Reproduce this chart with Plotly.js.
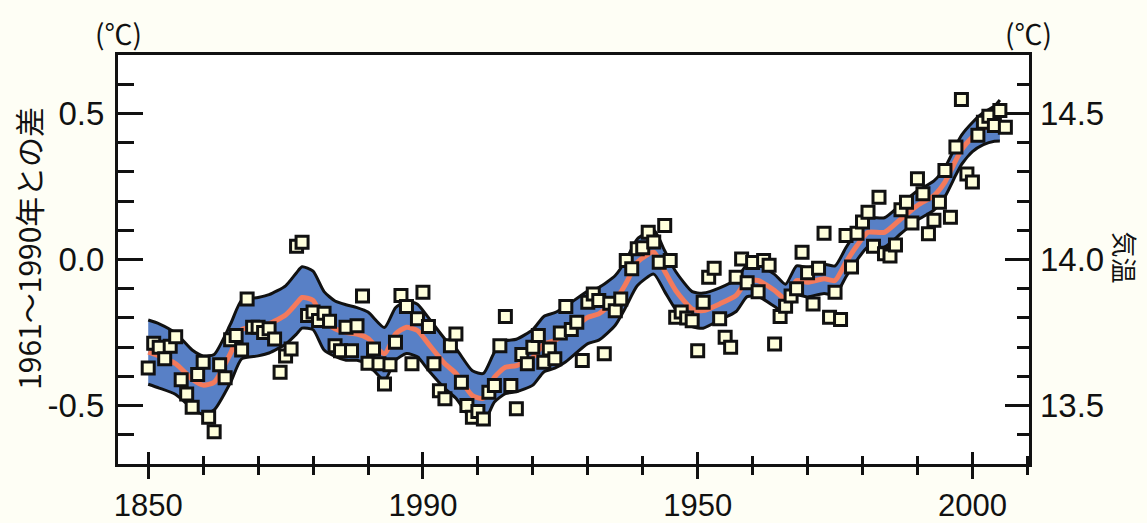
<!DOCTYPE html>
<html>
<head>
<meta charset="utf-8">
<script src="https://cdn.plot.ly/plotly-3.0.1.min.js"></script>
<style>
  html, body { margin: 0; padding: 0; background: #FEFEF5; }
  #chart { width: 1147px; height: 523px; }
</style>
</head>
<body>
<div id="chart"></div>
<script>
// ---- Data ----
// Annual global mean anomaly (°C, vs. 1961-1990)
const years = [];
for (let y = 1850; y <= 2006; y++) years.push(y);
const annualAnomaly = [
  -0.371, -0.287, -0.300, -0.340, -0.297, -0.264, -0.412, -0.460, -0.506, -0.394, // 1850-1859
  -0.352, -0.540, -0.590, -0.360, -0.405, -0.275, -0.260, -0.310, -0.135, -0.232, // 1860-1869
  -0.232, -0.250, -0.237, -0.272, -0.386, -0.330, -0.306,  0.045,  0.059, -0.192, // 1870-1879
  -0.180, -0.209, -0.184, -0.211, -0.295, -0.312, -0.232, -0.312, -0.227, -0.125, // 1880-1889
  -0.355, -0.306, -0.357, -0.426, -0.360, -0.283, -0.123, -0.161, -0.357, -0.203, // 1890-1899
  -0.112, -0.229, -0.357, -0.449, -0.477, -0.295, -0.255, -0.420, -0.500, -0.540, // 1900-1909
  -0.520, -0.546, -0.454, -0.431, -0.295, -0.195, -0.431, -0.511, -0.325, -0.357, // 1910-1919
  -0.300, -0.260, -0.352, -0.306, -0.340, -0.252, -0.161, -0.240, -0.215, -0.346, // 1920-1929
  -0.146, -0.118, -0.140, -0.323, -0.150, -0.175, -0.135, -0.003, -0.032,  0.037, // 1930-1939
   0.040,  0.093,  0.060, -0.009,  0.116, -0.003, -0.198, -0.180, -0.200, -0.210, // 1940-1949
  -0.312, -0.146, -0.061, -0.030, -0.203, -0.266, -0.300, -0.061,  0.002, -0.080, // 1950-1959
  -0.010, -0.110, -0.003, -0.020, -0.289, -0.195, -0.160, -0.125, -0.100,  0.025, // 1960-1969
  -0.045, -0.152, -0.030,  0.090, -0.198, -0.112, -0.205,  0.082, -0.026,  0.090, // 1970-1979
   0.128,  0.162,  0.045,  0.213,  0.020,  0.012,  0.050,  0.170,  0.196,  0.125, // 1980-1989
   0.276,  0.225,  0.088,  0.134,  0.196,  0.305,  0.145,  0.385,  0.548,  0.293, // 1990-1999
   0.265,  0.425,  0.470,  0.490,  0.459,  0.510,  0.453                           // 2000-2006
];

// Smoothed (decadal) curve and half-width of the shaded uncertainty band
const smoothYears = [1850,1852,1855,1858,1860,1862,1865,1867,1870,1872,1875,1877,1878,1880,1882,1884,1886,1888,
  1890,1893,1895,1897,1899,1901,1904,1906,1909,1911,1913,1915,1917,1920,1922,1924,1926,1930,1932,1935,1937,1939,
  1942,1944,1946,1949,1951,1954,1957,1959,1961,1964,1966,1968,1970,1973,1975,1977,1979,1981,1984,1987,1990,1993,
  1995,1997,1998,2000,2002,2004,2005];
const smoothValue = [-0.317,-0.330,-0.357,-0.410,-0.430,-0.420,-0.320,-0.240,-0.230,-0.220,-0.190,-0.150,-0.130,-0.140,-0.210,-0.237,-0.250,-0.255,
  -0.270,-0.323,-0.255,-0.232,-0.243,-0.289,-0.357,-0.390,-0.466,-0.475,-0.403,-0.369,-0.363,-0.335,-0.290,-0.277,-0.255,-0.198,-0.186,-0.140,-0.080,-0.010,
  0.025,-0.040,-0.106,-0.170,-0.175,-0.152,-0.123,-0.072,-0.072,-0.106,-0.135,-0.072,-0.078,-0.066,-0.072,-0.009,0.048,0.093,0.093,0.139,0.185,0.219,
  0.265,0.340,0.375,0.419,0.448,0.465,0.476];
const bandHalfWidth = [0.110,0.110,0.105,0.100,0.100,0.095,0.100,0.100,0.100,0.100,0.100,0.105,0.105,0.100,0.100,0.095,0.095,0.090,
  0.090,0.090,0.090,0.090,0.090,0.090,0.085,0.085,0.085,0.085,0.085,0.090,0.090,0.095,0.095,0.095,0.095,0.090,0.090,0.085,0.080,0.080,
  0.075,0.070,0.065,0.060,0.060,0.055,0.055,0.055,0.055,0.055,0.050,0.050,0.050,0.050,0.050,0.050,0.050,0.050,0.050,0.050,0.050,0.050,
  0.050,0.050,0.050,0.050,0.055,0.060,0.070];

// Axis tick labels (as printed on the original)
const xTickVals = [1850, 1900, 1950, 2000];
const xTickText = ['1850', '1990', '1950', '2000'];
const yTickVals = [-0.5, 0.0, 0.5];
const yTickText = ['-0.5', '0.0', '0.5'];
const y2TickVals = [13.5, 14.0, 14.5];
const y2TickText = ['13.5', '14.0', '14.5'];
const baselineTemp = 14.0; // absolute temperature of the zero anomaly

// ---- Build traces ----
const bandLow = smoothValue.map((v, i) => v - bandHalfWidth[i]);
const bandHigh = smoothValue.map((v, i) => v + bandHalfWidth[i]);

const BLACK = '#111111';
const traces = [
  { x: smoothYears, y: bandLow, type: 'scatter', mode: 'lines',
    line: { color: BLACK, width: 3, shape: 'spline', smoothing: 0.6 },
    hoverinfo: 'skip', showlegend: false },
  { x: smoothYears, y: bandHigh, type: 'scatter', mode: 'lines', fill: 'tonexty',
    fillcolor: '#5880C6',
    line: { color: BLACK, width: 3, shape: 'spline', smoothing: 0.6 },
    hoverinfo: 'skip', showlegend: false },
  { x: smoothYears, y: smoothValue, type: 'scatter', mode: 'lines',
    line: { color: '#F47A5C', width: 5, shape: 'spline', smoothing: 0.6 },
    showlegend: false },
  { x: years, y: annualAnomaly, type: 'scatter', mode: 'markers',
    marker: { symbol: 'square', size: 12, color: '#FFFFDC', line: { color: BLACK, width: 3 } },
    showlegend: false },
  // invisible traces that carry the secondary axes (crossing ticks / right scale)
  { x: years, y: annualAnomaly, xaxis: 'x2', type: 'scatter', mode: 'markers',
    marker: { opacity: 0 }, hoverinfo: 'skip', showlegend: false },
  { x: years, y: annualAnomaly.map(v => v + baselineTemp), yaxis: 'y2', type: 'scatter', mode: 'markers',
    marker: { opacity: 0 }, hoverinfo: 'skip', showlegend: false }
];

const tickFont = { family: 'Liberation Sans, Arial, sans-serif', size: 33, color: BLACK };
const xTickFont = { family: 'Liberation Sans, Arial, sans-serif', size: 31, color: BLACK };
const xRange = [1844.5, 2010.3];
const yRange = [-0.7, 0.7];

const layout = {
  width: 1147, height: 523,
  margin: { l: 118, r: 118, t: 55, b: 59 },
  paper_bgcolor: '#FEFEF5',
  plot_bgcolor: '#FFFFFF',
  showlegend: false,
  xaxis: {
    range: xRange, tickmode: 'array', tickvals: xTickVals, ticktext: xTickText,
    ticks: 'outside', ticklen: 12, tickwidth: 3, tickcolor: BLACK,
    minor: { dtick: 10, tick0: 1850, ticks: 'outside', ticklen: 8, tickwidth: 3, tickcolor: BLACK, showgrid: false },
    showline: true, linewidth: 3, linecolor: BLACK, mirror: true,
    showgrid: false, zeroline: false, tickfont: xTickFont, ticklabelstandoff: 0
  },
  xaxis2: {
    range: xRange, overlaying: 'x', anchor: 'y', side: 'bottom',
    tickmode: 'array', tickvals: xTickVals, showticklabels: false,
    ticks: 'inside', ticklen: 12, tickwidth: 3, tickcolor: BLACK,
    minor: { dtick: 10, tick0: 1850, ticks: 'inside', ticklen: 8, tickwidth: 3, tickcolor: BLACK, showgrid: false },
    showline: false, showgrid: false, zeroline: false
  },
  yaxis: {
    range: yRange, tickmode: 'array', tickvals: yTickVals, ticktext: yTickText,
    ticks: 'inside', ticklen: 25, tickwidth: 3, tickcolor: BLACK,
    minor: { dtick: 0.1, tick0: 0, ticks: 'inside', ticklen: 16, tickwidth: 3, tickcolor: BLACK, showgrid: false },
    showline: true, linewidth: 3, linecolor: BLACK, mirror: true,
    showgrid: false, zeroline: false, tickfont: tickFont, ticklabelstandoff: 4
  },
  yaxis2: {
    range: yRange.map(v => v + baselineTemp), overlaying: 'y', side: 'right', anchor: 'x',
    tickmode: 'array', tickvals: y2TickVals, ticktext: y2TickText,
    ticks: 'inside', ticklen: 24, tickwidth: 3, tickcolor: BLACK,
    minor: { dtick: 0.1, tick0: 0, ticks: 'inside', ticklen: 12, tickwidth: 3, tickcolor: BLACK, showgrid: false },
    showline: false, showgrid: false, zeroline: false, tickfont: tickFont, ticklabelstandoff: 10
  },
  annotations: [
    { text: '1961～1990年との差', textangle: -90, xref: 'paper', yref: 'paper',
      x: -0.099, y: 0.528, xanchor: 'center', yanchor: 'middle', showarrow: false,
      font: { family: 'Noto Sans CJK JP, sans-serif', size: 30, color: BLACK } },
    { text: '気温', textangle: 90, xref: 'paper', yref: 'paper',
      x: 1.106, y: 0.506, xanchor: 'center', yanchor: 'middle', showarrow: false,
      font: { family: 'Noto Sans CJK JP, sans-serif', size: 26, color: BLACK } },
    { text: '(℃)', xref: 'paper', yref: 'paper', x: 0.001, y: 1.054,
      xanchor: 'center', yanchor: 'middle', showarrow: false,
      font: { family: 'Noto Sans CJK JP, sans-serif', size: 28, color: BLACK } },
    { text: '(℃)', xref: 'paper', yref: 'paper', x: 0.999, y: 1.054,
      xanchor: 'center', yanchor: 'middle', showarrow: false,
      font: { family: 'Noto Sans CJK JP, sans-serif', size: 28, color: BLACK } }
  ]
};

Plotly.newPlot('chart', traces, layout, { displayModeBar: false, staticPlot: true });
</script>
</body>
</html>
